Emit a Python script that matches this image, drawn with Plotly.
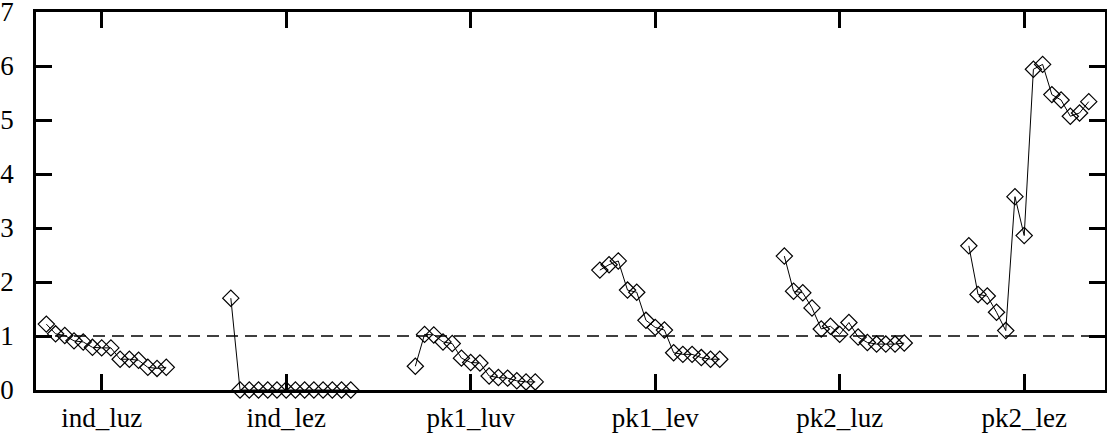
import plotly.graph_objects as go

categories = ["ind_luz", "ind_lez", "pk1_luv", "pk1_lev", "pk2_luz", "pk2_lez"]
cat_positions = [1, 2, 3, 4, 5, 6]
offsets = [-0.30, -0.25, -0.20, -0.15, -0.10, -0.05, 0.0, 0.05, 0.10, 0.15, 0.20, 0.25, 0.30, 0.35]

ind_luz = [1.22, 1.04, 1.01, 0.91, 0.89, 0.79, 0.78, 0.78, 0.57, 0.57, 0.55, 0.42, 0.40, 0.42]
ind_lez = [1.70, 0.0, 0.0, 0.0, 0.0, 0.0, 0.0, 0.0, 0.0, 0.0, 0.0, 0.0, 0.0, 0.0]
pk1_luv = [0.44, 1.03, 1.02, 0.89, 0.86, 0.59, 0.51, 0.50, 0.26, 0.23, 0.22, 0.17, 0.15, 0.15]
pk1_lev = [2.22, 2.32, 2.39, 1.85, 1.81, 1.29, 1.16, 1.11, 0.69, 0.66, 0.66, 0.60, 0.57, 0.57]
pk2_luz = [2.48, 1.83, 1.80, 1.52, 1.13, 1.18, 1.03, 1.25, 0.98, 0.88, 0.85, 0.85, 0.85, 0.87]
pk2_lez = [2.67, 1.77, 1.74, 1.44, 1.10, 3.58, 2.86, 5.94, 6.03, 5.47, 5.37, 5.07, 5.13, 5.34]

series = [ind_luz, ind_lez, pk1_luv, pk1_lev, pk2_luz, pk2_lez]
reference_level = 1.0
y_ticks = [0, 1, 2, 3, 4, 5, 6, 7]

fig = go.Figure()
for pos, vals in zip(cat_positions, series):
    fig.add_trace(go.Scatter(
        x=[pos + o for o in offsets],
        y=vals,
        mode="lines+markers",
        line=dict(color="black", width=1),
        marker=dict(symbol="diamond-open", size=12.5, color="black", line=dict(width=1.2, color="black")),
        showlegend=False,
        hoverinfo="skip",
        cliponaxis=False,
    ))

fig.add_shape(type="line", xref="paper", yref="y", x0=0, x1=1,
              y0=reference_level, y1=reference_level,
              line=dict(color="black", width=1.3, dash="12px,7px"), layer="below")

font_family = "Liberation Serif, DejaVu Serif, serif"
fig.update_layout(
    width=1107, height=436,
    margin=dict(l=36, r=2, t=12, b=46, autoexpand=False),
    paper_bgcolor="white", plot_bgcolor="white",
    font=dict(family=font_family, size=27, color="black"),
    xaxis=dict(
        range=[0.644, 6.438],
        tickmode="array", tickvals=cat_positions, ticktext=categories,
        ticks="inside", ticklen=16, tickwidth=2.5, tickcolor="black",
        showline=True, linewidth=2.5, linecolor="black", mirror="ticks",
        showgrid=False, zeroline=False, automargin=False,
        ticklabelstandoff=2, ticklabeloverflow="allow",
    ),
    yaxis=dict(
        range=[0, 7],
        tickmode="array", tickvals=y_ticks,
        ticks="inside", ticklen=16, tickwidth=2.5, tickcolor="black",
        showline=True, linewidth=2.5, linecolor="black", mirror="ticks",
        showgrid=False, zeroline=False, automargin=False,
        ticklabelstandoff=14, ticklabeloverflow="allow",
    ),
)

fig.write_html(
    "out.html",
    config={"displayModeBar": False},
    post_script="document.body.style.margin='0';document.body.style.overflow='hidden';",
)
